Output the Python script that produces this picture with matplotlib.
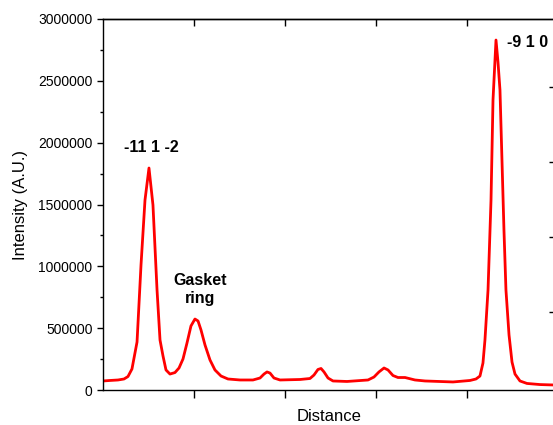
import numpy as np
import matplotlib
matplotlib.use("Agg")
import matplotlib.pyplot as plt
import matplotlib.ticker as mticker

plt.rcParams['font.family'] = ['Liberation Sans', 'DejaVu Sans']

# profile (distance in arbitrary units, intensity in counts)
distance = [0.506, 0.590, 0.687, 0.759, 0.807, 0.855, 0.916, 0.964, 1.012, 1.060,
            1.108, 1.157, 1.193, 1.229, 1.265, 1.313, 1.373, 1.422, 1.470, 1.518,
            1.566, 1.614, 1.651, 1.687, 1.735, 1.795, 1.855, 1.928, 2.012, 2.157,
            2.313, 2.398, 2.446, 2.482, 2.518, 2.566, 2.639, 2.880, 3.000, 3.048,
            3.096, 3.133, 3.169, 3.217, 3.277, 3.446, 3.699, 3.771, 3.831, 3.892,
            3.940, 4.000, 4.060, 4.145, 4.265, 4.386, 4.723, 4.928, 5.000, 5.048,
            5.084, 5.108, 5.145, 5.181, 5.205, 5.241, 5.265, 5.289, 5.313, 5.337,
            5.361, 5.398, 5.434, 5.470, 5.530, 5.614, 5.771, 5.964]
intensity = [73000, 77000, 81000, 89000, 109000, 170000, 388000, 1011000, 1536000, 1795000,
             1496000, 809000, 404000, 275000, 162000, 129000, 141000, 178000, 251000, 380000,
             518000, 574000, 558000, 485000, 364000, 243000, 162000, 113000, 89000, 81000,
             81000, 97000, 129000, 146000, 137000, 97000, 81000, 85000, 93000, 121000,
             166000, 174000, 146000, 97000, 73000, 69000, 81000, 105000, 146000, 178000,
             162000, 117000, 101000, 101000, 81000, 73000, 65000, 77000, 89000, 113000,
             218000, 404000, 809000, 1536000, 2345000, 2830000, 2652000, 2426000, 1860000, 1294000,
             809000, 445000, 226000, 129000, 73000, 53000, 44000, 40000]

peak_labels = ["-11 1 -2", "Gasket\nring", "-9 1 0"]
label_x = [1.084, 1.675, 5.373]
label_y = [1957000, 809000, 2806000]

bottom_ticks = [1, 2, 3, 4, 5]
# ticks of the top scale, in bottom-axis units (unlabelled)
top_ticks = [1.048, 1.598, 2.147, 2.696, 3.246, 3.795, 4.344, 4.894, 5.443]
top_long = [1.598, 2.696, 3.795, 4.894]
right_ticks = [1, 2, 3, 4]

fig = plt.figure(figsize=(5.53, 4.25), dpi=100)
rect = [103/553, 1 - 390/425, (556 - 103)/553, (390 - 19)/425]
ax = fig.add_axes(rect)

ax.plot(distance, intensity, color='#ff0000', lw=2.0, solid_joinstyle='round')

ax.set_xlim(0.506, 5.964)
ax.set_ylim(0, 3000000)
ax.set_xlabel("Distance", fontsize=12, labelpad=8)
ax.set_ylabel("Intensity (A.U.)", fontsize=12, labelpad=7)

# bottom = major x ticks, top = minor x ticks
ax.xaxis.set_major_locator(mticker.FixedLocator(bottom_ticks))
ax.xaxis.set_minor_locator(mticker.FixedLocator(top_ticks))
ax.tick_params(axis='x', which='major', direction='out', length=5.5, width=1,
               bottom=True, top=False, labelbottom=False, labeltop=False)
ax.tick_params(axis='x', which='minor', direction='in', length=3, width=1,
               bottom=False, top=True, labelbottom=False, labeltop=False,
               color='black')

ax.yaxis.set_major_locator(mticker.MultipleLocator(500000))
ax.yaxis.set_minor_locator(mticker.MultipleLocator(250000))
ax.yaxis.set_major_formatter(mticker.FormatStrFormatter('%d'))
ax.tick_params(axis='y', which='major', direction='out', length=4.5, width=1,
               labelsize=10, pad=3, right=False)
ax.tick_params(axis='y', which='minor', direction='out', length=2.5, width=1,
               right=False)
for s in ax.spines.values():
    s.set_linewidth(1.0)

# longer top ticks: overlay axes sharing the x scale
axt = fig.add_axes(rect, label='top scale', sharex=ax)
axt.patch.set_visible(False)
for side in ('left', 'right', 'bottom'):
    axt.spines[side].set_visible(False)
axt.spines['top'].set_linewidth(1.0)
axt.set_yticks([])
axt.xaxis.tick_top()
axt.xaxis.set_major_locator(mticker.FixedLocator(top_long))
axt.xaxis.set_minor_locator(mticker.NullLocator())
axt.tick_params(axis='x', which='major', top=True, bottom=False,
                labeltop=False, labelbottom=False, direction='in', length=5,
                width=1, color='black')

# right scale: separate overlay axes
axr = fig.add_axes(rect, label='right scale')
axr.patch.set_visible(False)
for side in ('left', 'top', 'bottom'):
    axr.spines[side].set_visible(False)
axr.spines['right'].set_linewidth(1.0)
axr.set_xticks([])
axr.set_ylim(-0.04, 4.91)
axr.yaxis.tick_right()
axr.set_yticks(right_ticks)
axr.tick_params(axis='y', which='both', right=True, left=False, labelright=False,
                labelleft=False, direction='in', length=5, width=1, color='black')

for lab, lx, ly in zip(peak_labels, label_x, label_y):
    ha = 'left' if lab == "-9 1 0" else 'center'
    ax.text(lx, ly, lab, fontsize=11.5, fontweight='bold', ha=ha, va='center',
            linespacing=1.25)

fig.savefig("out.png", dpi=100)
